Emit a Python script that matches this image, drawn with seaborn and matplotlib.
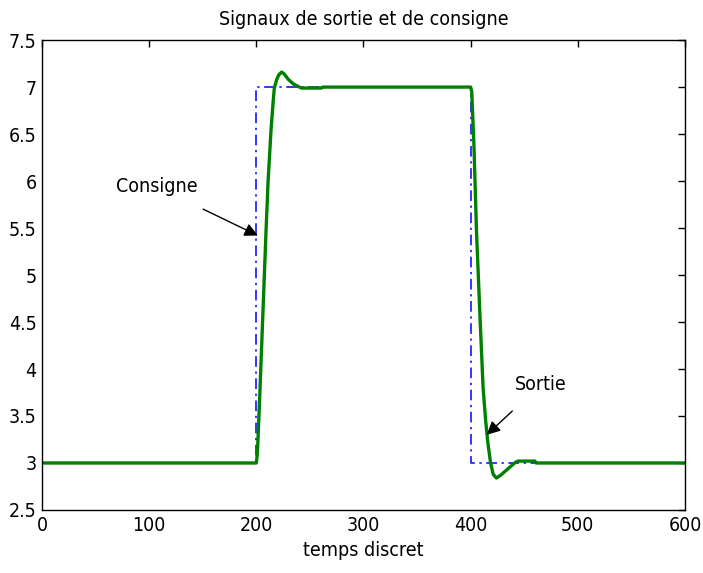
import matplotlib
matplotlib.use("Agg")
import matplotlib.pyplot as plt
import seaborn as sns
import pandas as pd

# Consigne (reference signal)
cons_t = [0, 200, 200, 400, 400, 600]
cons_y = [3, 3, 7, 7, 3, 3]

# Sortie (output signal)
sort_t = [0, 200, 201, 203, 205, 207, 209, 211, 213.7, 215.8, 216.8, 219, 221,
          223.6, 226, 230, 235, 242, 261, 262, 400, 401, 403, 405.5, 408.7,
          411.6, 414, 416, 418.6, 421, 424, 428, 435, 441, 444, 460, 461, 600]
sort_y = [3, 3, 3.1, 3.65, 4.25, 4.85, 5.45, 6.0, 6.54, 6.86, 6.99, 7.08, 7.13,
          7.16, 7.14, 7.08, 7.03, 6.99, 6.99, 7.0, 7.0, 6.95, 6.4, 5.45, 4.56,
          3.8, 3.45, 3.22, 3.0, 2.88, 2.84, 2.87, 2.94, 3.0, 3.02, 3.02, 3.0, 3.0]

x_ticks = [0, 100, 200, 300, 400, 500, 600]
y_ticks = [2.5, 3, 3.5, 4, 4.5, 5, 5.5, 6, 6.5, 7, 7.5]
y_labels = ["2.5", "3", "3.5", "4", "4.5", "5", "5.5", "6", "6.5", "7", "7.5"]

sns.set_style("white")
plt.rcParams['font.family'] = ['DejaVu Sans']
plt.rcParams['font.stretch'] = 'condensed'
plt.rcParams['text.color'] = 'black'
plt.rcParams['axes.labelcolor'] = 'black'

fig = plt.figure(figsize=(7.03, 5.73), dpi=100)
ax = fig.add_axes([0.0597, 0.110, 0.9147, 0.820])

df_c = pd.DataFrame({"t": cons_t, "y": cons_y})
df_s = pd.DataFrame({"t": sort_t, "y": sort_y})

sns.lineplot(data=df_c, x="t", y="y", ax=ax, color="#0000ff", lw=1.1,
             linestyle=(0, (7, 3, 1.5, 3)), sort=False, estimator=None)
sns.lineplot(data=df_s, x="t", y="y", ax=ax, color="#008000", lw=2.4,
             sort=False, estimator=None)

ax.set_xlim(0, 600)
ax.set_ylim(2.5, 7.5)
ax.set_xticks(x_ticks)
ax.set_yticks(y_ticks)
ax.set_yticklabels(y_labels)
ax.tick_params(direction="in", length=5, top=True, right=True, labelsize=14,
               width=1, colors="black", pad=4)
for s in ax.spines.values():
    s.set_color("black")
    s.set_linewidth(1)

ax.set_xlabel("temps discret", fontsize=14, labelpad=5)
ax.set_ylabel("")
ax.set_title("Signaux de sortie et de consigne", fontsize=14, pad=11)

ax.annotate("Consigne", xy=(201.5, 5.42), xytext=(107, 5.94),
            fontsize=14, ha="center", va="center",
            arrowprops=dict(arrowstyle="-|>", color="black", lw=1,
                            mutation_scale=20, shrinkA=16, shrinkB=0))
ax.annotate("Sortie", xy=(415, 3.3), xytext=(465, 3.83),
            fontsize=14, ha="center", va="center",
            arrowprops=dict(arrowstyle="-|>", color="black", lw=1,
                            mutation_scale=20, shrinkA=14, shrinkB=0))

fig.savefig("out.png", dpi=100)
